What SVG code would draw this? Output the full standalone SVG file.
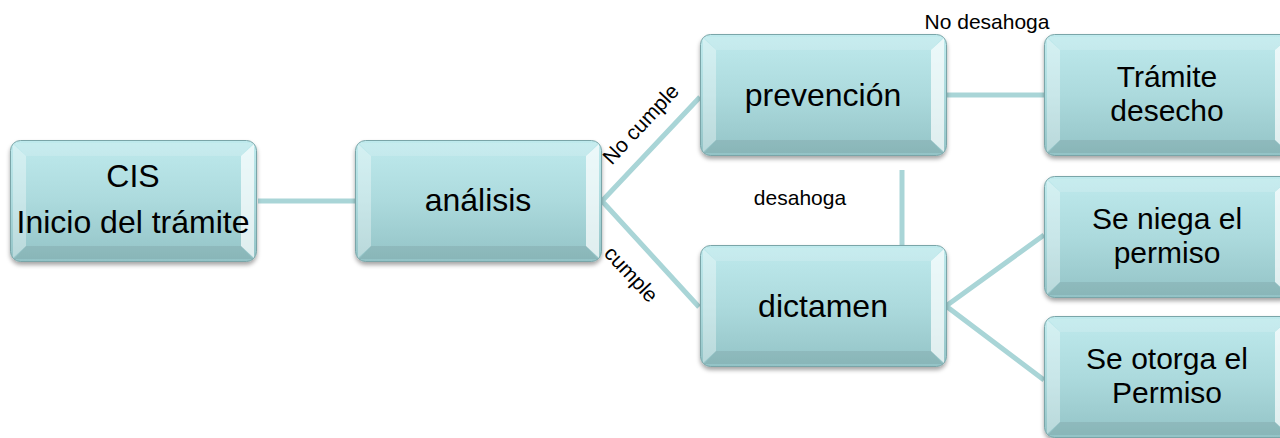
<svg xmlns="http://www.w3.org/2000/svg" width="1280" height="438" viewBox="0 0 1280 438">
<style>
.c{stroke:#a9d5d7;stroke-width:5;fill:none}
.t{font-family:"Liberation Sans",Arial,sans-serif;font-size:32px;fill:#000;text-anchor:middle}
.r{font-family:"Liberation Sans",Arial,sans-serif;font-size:30px;fill:#000;text-anchor:middle}
.l{font-family:"Liberation Sans",Arial,sans-serif;font-size:21px;fill:#000;text-anchor:middle}
</style>
<defs>
<linearGradient id="g" x1="0" y1="0" x2="0" y2="1">
<stop offset="0" stop-color="#bfeaed"/>
<stop offset="0.5" stop-color="#acdadd"/>
<stop offset="1" stop-color="#93c3c6"/>
</linearGradient>
<filter id="sh" x="-10%" y="-10%" width="120%" height="130%">
<feDropShadow dx="0" dy="3" stdDeviation="2" flood-color="#000" flood-opacity="0.35"/>
</filter>
<g id="box">
<rect x="0.5" y="0.5" width="246" height="121" rx="10" fill="url(#g)" stroke="#7aa5a8" stroke-width="1" filter="url(#sh)"/>
<polygon points="3,4 16,16 16,106 3,118" fill="#ffffff" opacity="0.35"/>
<polygon points="244,4 231,16 231,106 244,118" fill="#ffffff" opacity="0.7"/>
<polygon points="4,3 243,3 231,16 16,16" fill="#ffffff" opacity="0.15"/>
<polygon points="4,119 16,106 231,106 243,119" fill="#000000" opacity="0.07"/>
</g>
</defs>
<rect width="1280" height="438" fill="#ffffff"/>
<g id="connectors">
<line class="c" x1="258" y1="201" x2="355" y2="201"/>
<polyline class="c" points="700,97 602,201 699,307"/>
<line class="c" x1="947" y1="95" x2="1044" y2="95"/>
<line class="c" x1="902" y1="170" x2="902" y2="253"/>
<polyline class="c" points="1044,235 946,306 1044,380"/>
<text class="l" transform="translate(646,129) rotate(-47)">No cumple</text>
<text class="l" transform="translate(626,279) rotate(47)">cumple</text>
<text class="l" x="987" y="29">No desahoga</text>
<text class="l" x="800" y="205">desahoga</text>
</g>
<g id="cis">
<use href="#box" x="10" y="140"/>
<text class="t" x="133" y="187">CIS</text>
<text class="t" x="133" y="233">Inicio del trámite</text>
</g>
<g id="analisis">
<use href="#box" x="355" y="140"/>
<text class="t" x="478" y="211">análisis</text>
</g>
<g id="prevencion">
<use href="#box" x="700" y="34"/>
<text class="t" x="823" y="106">prevención</text>
</g>
<g id="dictamen">
<use href="#box" x="700" y="245"/>
<text class="t" x="823" y="317">dictamen</text>
</g>
<g id="desecho">
<use href="#box" x="1044" y="34"/>
<text class="r" x="1167" y="87">Trámite</text>
<text class="r" x="1167" y="121">desecho</text>
</g>
<g id="niega">
<use href="#box" x="1044" y="176"/>
<text class="r" x="1167" y="229">Se niega el</text>
<text class="r" x="1167" y="263">permiso</text>
</g>
<g id="otorga">
<use href="#box" x="1044" y="316"/>
<text class="r" x="1167" y="369">Se otorga el</text>
<text class="r" x="1167" y="403">Permiso</text>
</g>
</svg>
